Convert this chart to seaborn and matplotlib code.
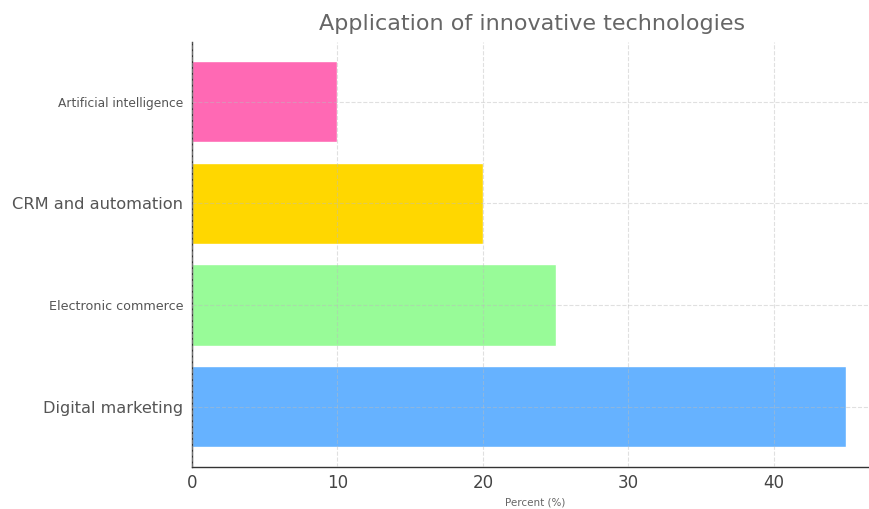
import matplotlib
matplotlib.use("Agg")
import matplotlib.pyplot as plt
import seaborn as sns
import pandas as pd

# Chart data
categories = ['Artificial intelligence', 'CRM and automation',
              'Electronic commerce', 'Digital marketing']
percent = [10, 20, 25, 45]
colors = ['#ff69b4', '#ffd700', '#98fb98', '#66b2ff']
label_sizes = [8.8, 11.7, 9.2, 11.6]

df = pd.DataFrame({'Technology': categories, 'Percent': percent})

sns.set_style('white')
plt.rcParams['font.family'] = ['DejaVu Sans']

fig = plt.figure(figsize=(8.69, 5.09), dpi=100)
# the original is cropped on the right, so the axes run past the edge
ax = fig.add_axes([0.221, 0.083, 0.7906, 0.835])

sns.barplot(data=df, x='Percent', y='Technology', hue='Technology',
            order=categories, palette=colors, legend=False, width=0.8,
            saturation=1, ax=ax)

ax.set_xlim(0, 47.25)
ax.set_ylim(3.59, -0.59)
ax.set_xticks([0, 10, 20, 30, 40])

# faint dashed grid drawn over the bars
ax.set_axisbelow(False)
ax.grid(True, linestyle='--', color='#bbbbbb', alpha=0.45, linewidth=0.8)

for side in ['top', 'right']:
    ax.spines[side].set_visible(False)
for side in ['left', 'bottom']:
    ax.spines[side].set_color('#333333')
    ax.spines[side].set_linewidth(1.0)

ax.tick_params(axis='both', length=3, color='#333333')
ax.tick_params(axis='x', labelsize=12, labelcolor='#444444', pad=2)
for lbl, size in zip(ax.get_yticklabels(), label_sizes):
    lbl.set_fontsize(size)
    lbl.set_color('#555555')

ax.set_ylabel('')
ax.set_xlabel('Percent (%)', fontsize=7.5, color='#666666', labelpad=4)
fig.suptitle('Application of innovative technologies', fontsize=16,
             color='#666666', x=0.612, y=0.972)

fig.savefig('out.png', dpi=100)
